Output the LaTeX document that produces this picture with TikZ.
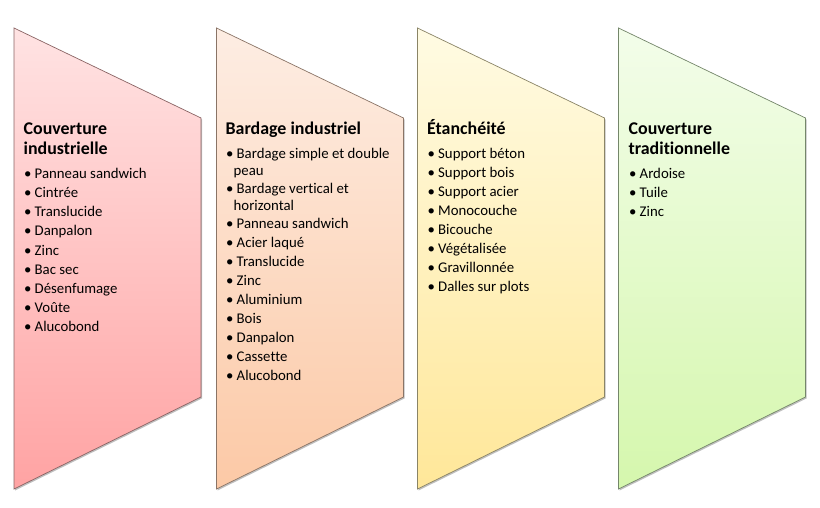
\documentclass[tikz,border=0pt]{standalone}
\usepackage{fontspec}
\setmainfont{Carlito}[Ligatures=NoCommon]
\usetikzlibrary{shadows}
\definecolor{p1t}{HTML}{FFE3E3}
\definecolor{p1b}{HTML}{FFA3A3}
\definecolor{p1d}{HTML}{8A6464}
\definecolor{p2t}{HTML}{FDEDE3}
\definecolor{p2b}{HTML}{FCC9A6}
\definecolor{p2d}{HTML}{8A7466}
\definecolor{p3t}{HTML}{FFFBE3}
\definecolor{p3b}{HTML}{FFE799}
\definecolor{p3d}{HTML}{8A8466}
\definecolor{p4t}{HTML}{F3FDEA}
\definecolor{p4b}{HTML}{D5F7AD}
\definecolor{p4d}{HTML}{74866A}
\tikzset{
  panel/.style n args={3}{top color=#1, bottom color=#2, draw=#3, line width=0.7pt,
    drop shadow={shadow xshift=1pt, shadow yshift=-1.5pt, opacity=0.25, fill=black}},
  ttl/.style={anchor=base west, inner sep=0pt, font=\fontsize{17.9}{20}\selectfont\bfseries},
  itm/.style={anchor=base west, inner sep=0pt, font=\fontsize{14.8}{16}\selectfont},
}
\newcommand\bul{\makebox[10.5pt][l]{•}}
\begin{document}
\begin{tikzpicture}[x=1pt,y=-1pt]
\useasboundingbox (0,0) rectangle (820,508);
% panels
\path[panel={p1t}{p1b}{p1d}] (14,28) -- (201,118) -- (201,397) -- (14,489) -- cycle;
\path[panel={p2t}{p2b}{p2d}] (216.5,28) -- (403.5,118) -- (403.5,397) -- (216.5,489) -- cycle;
\path[panel={p3t}{p3b}{p3d}] (417.5,28) -- (604.5,118) -- (604.5,397) -- (417.5,489) -- cycle;
\path[panel={p4t}{p4b}{p4d}] (618.5,28) -- (805.5,118) -- (805.5,397) -- (618.5,489) -- cycle;
% panel 1
\node[ttl] (a0) at (23.5,134.5) {Couverture};
\node[ttl] (a00) at (23.5,154.5) {industrielle};
\foreach \t [count=\i from 0] in {Panneau sandwich, Cintrée, Translucide, Danpalon, Zinc, Bac sec, Désenfumage, Voûte, Alucobond}
  \node[itm] (a\i) at (24,179+19*\i) {\bul\t};
% panel 2
\node[ttl] (b0) at (225.5,134.5) {Bardage industriel};
\node[itm] (b1) at (226,159) {\bul Bardage simple et double};
\node[itm] (b1c) at (233.5,175.4) {peau};
\node[itm] (b2) at (226,194) {\bul Bardage vertical et};
\node[itm] (b2c) at (233.5,210.4) {horizontal};
\foreach \t [count=\i from 3] in {Panneau sandwich, Acier laqué, Translucide, Zinc, Aluminium, Bois, Danpalon, Cassette, Alucobond}
  \node[itm] (b\i) at (226,229+18.9*\i-18.9*3) {\bul\t};
% panel 3
\node[ttl] (c0) at (427,134.5) {Étanchéité};
\foreach \t [count=\i from 0] in {Support béton, Support bois, Support acier, Monocouche, Bicouche, Végétalisée, Gravillonnée, Dalles sur plots}
  \node[itm] (c\i) at (427.5,159+18.9*\i) {\bul\t};
% panel 4
\node[ttl] (d0) at (628.5,134.5) {Couverture};
\node[ttl] (d00) at (628.5,154.5) {traditionnelle};
\foreach \t [count=\i from 0] in {Ardoise, Tuile, Zinc}
  \node[itm] (d\i) at (629,179+19*\i) {\bul\t};
\end{tikzpicture}
\end{document}
